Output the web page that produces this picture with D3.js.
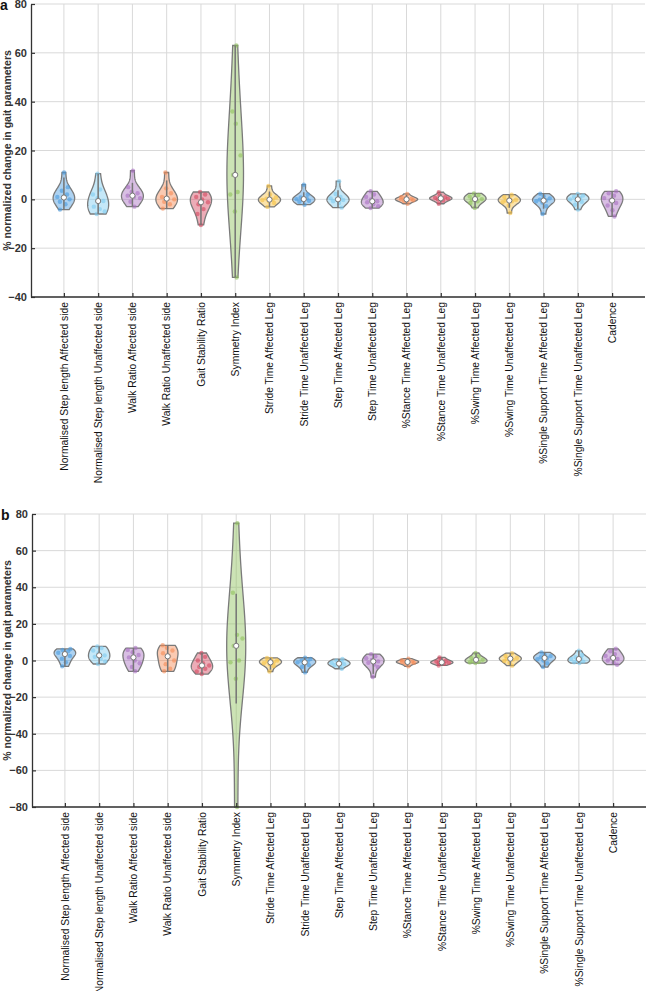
<!DOCTYPE html>
<html>
<head>
<meta charset="utf-8">
<script src="https://cdn.jsdelivr.net/npm/d3@7"></script>
<style>
  body { margin: 0; background: #fff; }
  svg { font-family: "Liberation Sans", Arial, sans-serif; }
</style>
</head>
<body>
<svg id="chart" width="648" height="991"></svg>
<script>
// categories shared by both panels
const categories = [
  "Normalised Step length Affected side",
  "Normalised Step length Unaffected side",
  "Walk Ratio Affected side",
  "Walk Ratio Unaffected side",
  "Gait Stability Ratio",
  "Symmetry Index",
  "Stride Time Affected Leg",
  "Stride Time Unaffected Leg",
  "Step Time Affected Leg",
  "Step Time Unaffected Leg",
  "%Stance Time Affected Leg",
  "%Stance Time Unaffected Leg",
  "%Swing Time Affected Leg",
  "%Swing Time Unaffected Leg",
  "%Single Support Time Affected Leg",
  "%Single Support Time Unaffected Leg",
  "Cadence"
];

// panel a: individual % changes per parameter
const valuesA = [
  [-4.2, -2, -1, 0, 0.5, 1, 2, 3.5, 5, 11],
  [-6, -5, -4, -3, -0.7, 0.5, 2, 4, 10.5],
  [-3, -1, 0.5, 1, 1.5, 2.5, 3, 5, 11.7],
  [-3.8, -2, -1, 0, 0.3, 1, 2.5, 4.5, 11],
  [-10.5, -6, -4, -2, -1.2, 0, 1, 2, 3],
  [-32, -5, 2, 3, 10, 18, 31, 36, 63],
  [-3.1, -1.5, -0.8, -0.3, -0.1, 0.3, 0.8, 2, 5.5],
  [-2.2, -1, -0.6, -0.2, 0.1, 0.4, 0.8, 2, 6],
  [-3.4, -1.5, -0.8, -0.3, 0, 0.4, 1, 2.2, 7.4],
  [-3.6, -2.8, -2, -1.2, -0.8, 0, 1, 2, 3.3],
  [-1.8, -0.8, -0.4, -0.1, 0, 0.2, 0.5, 1, 2.2],
  [-1.8, -0.5, 0, 0.3, 0.4, 0.6, 0.9, 1.5, 2.9],
  [-3.5, -1.5, -0.8, -0.2, 0.1, 0.6, 1.2, 1.8, 2.4],
  [-5.6, -2.5, -1.2, -0.8, -0.5, -0.2, 0.3, 1, 1.9],
  [-6, -2.8, -1.3, -0.8, -0.5, -0.1, 0.4, 1.2, 2.3],
  [-4.2, -2.2, -1, -0.4, 0, 0.5, 1, 1.6, 2.2],
  [-7, -4.5, -2.5, -1.5, -0.5, 0.5, 1.5, 2.5, 3.3]
];

// panel b
const valuesB = [
  [-3.2, -1, 1, 2.5, 3.5, 4.2, 5, 5.7, 6.3],
  [-1.9, -0.5, 1, 2, 2.8, 4, 5.5, 6.8, 7.7],
  [-5.9, -3.5, -1.5, 0, 1.7, 3, 4.5, 5.8, 6.8],
  [-5.9, -4.5, -2, 0, 2.3, 4, 5.5, 7, 8.3],
  [-7.4, -6, -4.5, -3.5, -2.7, -1.5, 0, 2, 4.1],
  [-80, -10, -1, 0, 8, 12, 14, 37, 75],
  [-6, -3, -2, -1.5, -1, -0.5, 0, 0.8, 1.4],
  [-6.5, -3.5, -2.5, -1.5, -1, -0.5, 0, 0.8, 1.5],
  [-4.5, -3.2, -2.5, -2, -1.7, -1.2, -0.6, 0, 0.8],
  [-9, -3.5, -2.2, -1.2, -0.5, 0.3, 1.2, 2.3, 3.5],
  [-3.2, -1.8, -1.3, -1, -0.8, -0.6, -0.3, 0.2, 1],
  [-2.7, -1.8, -1.4, -1.2, -1, -0.6, -0.2, 0.5, 1.7],
  [-1.4, -1.1, -0.8, -0.3, 0.4, 0.8, 1.3, 2.2, 4.1],
  [-2.8, -1.2, -0.3, 0.5, 1, 1.4, 1.8, 2.5, 4],
  [-3.6, -1.5, 0, 0.7, 1.4, 1.8, 2.4, 3, 4.4],
  [-1.4, -1, -0.6, 0, 0.8, 1.2, 1.8, 3, 5.3],
  [-2.3, -1.2, 0, 0.8, 1.4, 2.5, 3.5, 5, 6.4]
];

const ticksA = [-40, -20, 0, 20, 40, 60, 80];
const ticksB = [-80, -60, -40, -20, 0, 20, 40, 60, 80];

const palette = ["#4a9be0", "#7ecbf0", "#a86fc1", "#f58a55", "#d4475f", "#8fc15c", "#f6c143"];

const svg = d3.select("#chart");
const yLabel = "% normalized change in gait parameters";

// gaussian kernel density, normal-reference bandwidth
function kde(vals, n = 80) {
  const h = 1.06 * d3.deviation(vals) * Math.pow(vals.length, -0.2);
  const lo = d3.min(vals), hi = d3.max(vals);
  return d3.range(n + 1).map(i => {
    const y = lo + (hi - lo) * i / n;
    return [y, d3.mean(vals, v => Math.exp(-0.5 * ((y - v) / h) ** 2))];
  });
}

function drawPanel(opts) {
  const g = svg.append("g");
  const x = d3.scalePoint().domain(categories).range([opts.left, opts.right]).padding(0.96);
  const y = d3.scaleLinear().domain(d3.extent(opts.ticks)).range([opts.bottom, opts.top]);

  // grid
  g.append("g").selectAll("line").data(opts.ticks).join("line")
    .attr("x1", opts.left).attr("x2", opts.right)
    .attr("y1", d => y(d)).attr("y2", d => y(d))
    .attr("stroke", "#d9d9d9").attr("stroke-width", 1);
  g.append("g").selectAll("line").data(categories).join("line")
    .attr("x1", d => x(d)).attr("x2", d => x(d))
    .attr("y1", opts.top).attr("y2", opts.bottom)
    .attr("stroke", "#d9d9d9").attr("stroke-width", 1);

  // violins
  opts.values.forEach((vals, i) => {
    const cx = x(categories[i]);
    const col = palette[i % palette.length];
    const s = vals.slice().sort(d3.ascending);
    const q1 = d3.quantile(s, 0.25), q3 = d3.quantile(s, 0.75), iqr = q3 - q1;
    const dens = kde(s);
    const dmax = d3.max(dens, d => d[1]);
    const half = 11.3 / (1 + iqr / 80);   // very spread violins drawn a bit slimmer
    const w = d => half * d / dmax;

    const vg = g.append("g");
    vg.append("path")
      .datum(dens)
      .attr("d", d3.area().y(d => y(d[0])).x0(d => cx - w(d[1])).x1(d => cx + w(d[1])))
      .attr("fill", col).attr("fill-opacity", 0.45)
      .attr("stroke", "#7a7a7a").attr("stroke-width", 1.3);

    // points spread inside the density (deterministic offsets)
    s.forEach((v, k) => {
      const near = dens.reduce((a, b) => Math.abs(b[0] - v) < Math.abs(a[0] - v) ? b : a);
      const j = ((k * 0.618034 + i * 0.37) % 1) * 2 - 1;
      vg.append("circle")
        .attr("cx", cx + j * 0.75 * w(near[1]))
        .attr("cy", y(v))
        .attr("r", 2.2)
        .attr("fill", col).attr("fill-opacity", 0.6);
    });

    // whisker + median
    const lo = Math.max(s[0], q1 - 1.5 * iqr), hi = Math.min(s[s.length - 1], q3 + 1.5 * iqr);
    vg.append("line")
      .attr("x1", cx).attr("x2", cx).attr("y1", y(lo)).attr("y2", y(hi))
      .attr("stroke", "#777").attr("stroke-width", 1.5);
    vg.append("circle")
      .attr("cx", cx).attr("cy", y(d3.median(s))).attr("r", 2.6)
      .attr("fill", "#fff").attr("stroke", "#777").attr("stroke-width", 1);
  });

  // axes
  const ya = g.append("g").attr("transform", `translate(${opts.left},0)`)
    .call(d3.axisLeft(y).tickValues(opts.ticks).tickSize(-4).tickPadding(4).tickSizeOuter(0));
  const xa = g.append("g").attr("transform", `translate(0,${opts.bottom})`)
    .call(d3.axisBottom(x).tickSize(-4).tickSizeOuter(0).tickFormat(""));
  [ya, xa].forEach(a => {
    a.select(".domain").attr("stroke", "#333").attr("stroke-width", 1.3);
    a.selectAll(".tick line").attr("stroke", "#333").attr("stroke-width", 1.2);
  });
  xa.select(".domain").attr("d", `M${opts.left},0H${opts.right}`);
  ya.selectAll(".tick text")
    .attr("font-size", 11).attr("font-weight", "bold").attr("fill", "#333")
    .attr("font-family", "Liberation Sans, Arial, sans-serif");

  // category labels
  g.append("g").selectAll("text").data(categories).join("text")
    .attr("transform", d => `translate(${x(d) + 3.8},${opts.bottom + 5}) rotate(-90)`)
    .attr("text-anchor", "end")
    .attr("font-size", 10.3).attr("fill", "#111")
    .text(d => d);

  g.append("text")
    .attr("transform", `translate(11,${(opts.top + opts.bottom) / 2}) rotate(-90)`)
    .attr("text-anchor", "middle")
    .attr("font-size", 10.5).attr("font-weight", "bold").attr("fill", "#333")
    .text(yLabel);

  g.append("text")
    .attr("x", opts.letterX).attr("y", opts.letterY)
    .attr("font-size", 14).attr("font-weight", "bold").attr("fill", "#111")
    .text(opts.letter);
}

drawPanel({ values: valuesA, ticks: ticksA, left: 31, right: 645, top: 4, bottom: 297, letter: "a", letterX: 0, letterY: 10 });
drawPanel({ values: valuesB, ticks: ticksB, left: 32, right: 646, top: 514, bottom: 807, letter: "b", letterX: 1, letterY: 520 });
</script>
</body>
</html>
